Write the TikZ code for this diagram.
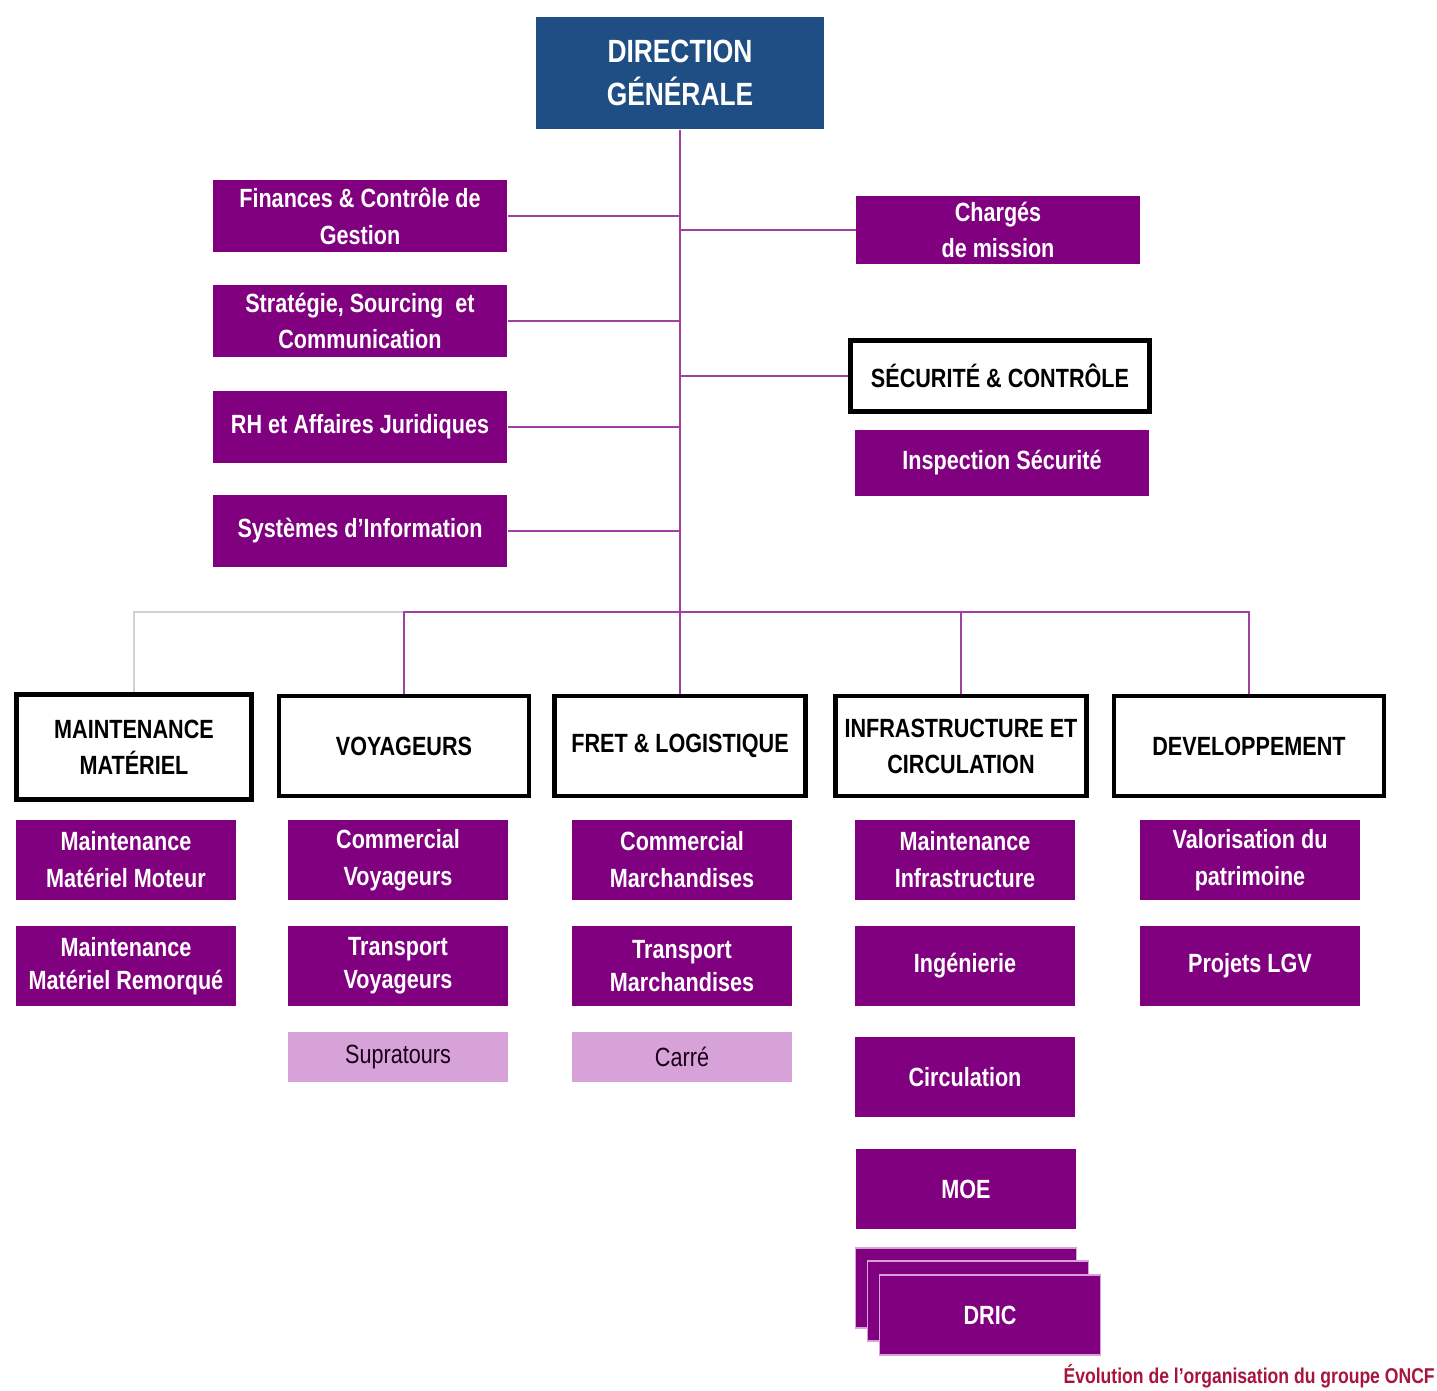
\documentclass[tikz,border=0pt]{standalone}
\usepackage{fontspec}
\setmainfont{Liberation Sans}[FakeStretch=0.82]
\usepackage{xcolor}
\usetikzlibrary{positioning}

\definecolor{oncfbleu}{HTML}{1F4E85}
\definecolor{oncfviolet}{HTML}{800080}
\definecolor{oncfrose}{HTML}{D6A2D8}
\definecolor{oncfrouge}{HTML}{A8143C}

\begin{document}
\begin{tikzpicture}[
    x=0.02cm, y=-0.02cm,
    every node/.style = {align=center, inner sep=0pt},
    direction/.style = {fill=oncfbleu, text=white, font=\fontsize{18.3}{24.5}\selectfont\bfseries},
    service/.style = {fill=oncfviolet, text=white, font=\fontsize{15}{21}\selectfont\bfseries,
      minimum width=4.42cm, minimum height=1.6cm},
    entite/.style = {draw=black, line width=2.4pt, fill=white, font=\fontsize{15}{20.5}\selectfont\bfseries,
      minimum height=2.0cm},
    filiale/.style = {fill=oncfrose, text=black!80!oncfviolet, font=\fontsize{15}{20}\selectfont,
      minimum width=4.42cm, minimum height=1.02cm},
    lien/.style = {draw=oncfviolet!75, line width=0.8pt},
    lienpale/.style = {draw=black!18, line width=0.8pt}
  ]
  \useasboundingbox (0,0) rectangle (1437,1391);

  % direction generale
  \node[direction, minimum width=5.78cm, minimum height=2.26cm] (dg) at (680,73) {DIRECTION\\GÉNÉRALE};

  % services rattaches
  \node[service, minimum width=5.9cm, minimum height=1.46cm] (fin) at (360,216) {Finances \& Contrôle de\\Gestion};
  \node[service, minimum width=5.9cm, minimum height=1.46cm] (strat) at (360,321) {Stratégie, Sourcing\ \ et\\Communication};
  \node[service, minimum width=5.9cm, minimum height=1.46cm] (rh) at (360,427) {RH et Affaires Juridiques};
  \node[service, minimum width=5.9cm, minimum height=1.46cm] (si) at (360,531) {Systèmes d’Information};
  \node[service, minimum width=5.68cm, minimum height=1.36cm] (charges) at (998,230) {Chargés\\de mission};
  \node[entite, minimum width=5.98cm, minimum height=1.42cm] (secu) at (1000,376) {SÉCURITÉ \& CONTRÔLE};
  \node[service, minimum width=5.9cm, minimum height=1.32cm] (insp) at (1002,463) {Inspection Sécurité};

  % poles
  \node[entite, minimum width=4.7cm, minimum height=2.1cm] (mm) at (134,747) {MAINTENANCE\\MATÉRIEL};
  \node[entite, minimum width=5.0cm] (voy) at (404,746) {VOYAGEURS};
  \node[entite, minimum width=5.02cm] (fret) at (680,746) {FRET \& LOGISTIQUE};
  \node[entite, minimum width=5.02cm] (infra) at (961,746) {INFRASTRUCTURE ET\\CIRCULATION};
  \node[entite, minimum width=5.4cm] (dev) at (1249,746) {DEVELOPPEMENT};

  % directions des poles
  \node[service] (mmm) at (126,860) {Maintenance\\Matériel Moteur};
  \node[service, font=\fontsize{15}{19}\selectfont\bfseries] (mmr) at (126,966) {Maintenance\\Matériel Remorqué};
  \node[service] (cv) at (398,860) {Commercial\\Voyageurs};
  \node[service, font=\fontsize{15}{19}\selectfont\bfseries] (tv) at (398,966) {Transport\\Voyageurs};
  \node[filiale] (supra) at (398,1057) {Supratours};
  \node[service] (cm) at (682,860) {Commercial\\Marchandises};
  \node[service, font=\fontsize{15}{19}\selectfont\bfseries] (tm) at (682,966) {Transport\\Marchandises};
  \node[filiale] (carre) at (682,1057) {Carré};
  \node[service] (mi) at (965,860) {Maintenance\\Infrastructure};
  \node[service] (ing) at (965,966) {Ingénierie};
  \node[service] (circ) at (965,1077) {Circulation};
  \node[service] (moe) at (966,1189) {MOE};
  \node[service, draw=oncfrose, line width=0.6pt] (dric3) at (966,1288) {};
  \node[service, draw=oncfrose, line width=0.6pt] (dric2) at (978,1301) {};
  \node[service, draw=oncfrose, line width=0.6pt] (dric) at (990,1315) {DRIC};
  \node[service] (valo) at (1250,860) {Valorisation du\\patrimoine};
  \node[service] (lgv) at (1250,966) {Projets LGV};

  % liaisons
  \coordinate (bus) at (680,612);
  \draw[lien] (dg.south) -- (fret.north);
  \foreach \s in {fin,strat,rh,si}
    \draw[lien] (\s.east) -- (\s.east -| dg.south);
  \draw[lien] (charges.west) -- (charges.west -| dg.south);
  \draw[lien] (secu.west) -- (secu.west -| dg.south);
  \draw[lienpale] (mm.north) |- (voy.north |- bus);
  \draw[lien] (voy.north) |- (dev.north |- bus) -- (dev.north);
  \draw[lien] (infra.north) -- (infra.north |- bus);

  \node[anchor=south east, text=oncfrouge, font=\fontsize{12.2}{13}\selectfont\bfseries] (titre) at (1435,1388)
    {Évolution de l’organisation du groupe ONCF};
\end{tikzpicture}
\end{document}
